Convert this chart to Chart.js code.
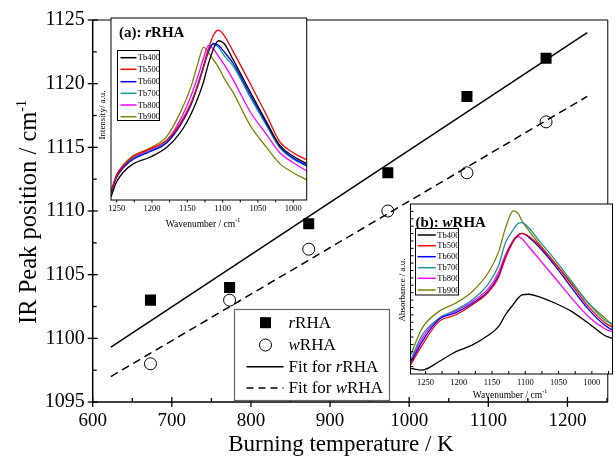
<!DOCTYPE html>
<html><head><meta charset="utf-8">
<script src="https://cdn.jsdelivr.net/npm/chart.js@4.4.1/dist/chart.umd.min.js"></script>
<style>
html,body{margin:0;padding:0;background:#fff;}
#wrap{position:relative;width:615px;height:457px;overflow:hidden;background:#fff;}
canvas{position:absolute;}
</style></head><body>
<div id="wrap">
<canvas id="main" width="615" height="457" style="left:0;top:0;width:615px;height:457px"></canvas>
<canvas id="insA" width="226" height="228" style="left:88px;top:8px;width:226px;height:228px"></canvas>
<canvas id="insB" width="223" height="210" style="left:392px;top:196px;width:223px;height:210px"></canvas>
</div>
<script>
// ---------- main chart data ----------
const tempK = [673, 773, 873, 973, 1073, 1173];
const peakR = [1103, 1104, 1109, 1113, 1119, 1122];
const peakW = [1098, 1103, 1107, 1110, 1113, 1117];
const fitX = [623, 1225];
const fitR = [1099.3, 1124.0];
const fitW = [1097.0, 1119.0];
const xTickValues = [600, 650, 700, 750, 800, 850, 900, 950, 1000, 1050, 1100, 1150, 1200, 1250];
const xTickLabels = [600, 700, 800, 900, 1000, 1100, 1200];
const yTickValues = [1095, 1097.5, 1100, 1102.5, 1105, 1107.5, 1110, 1112.5, 1115, 1117.5, 1120, 1122.5, 1125];
const yTickLabels = [1095, 1100, 1105, 1110, 1115, 1120, 1125];

// ---------- inset (a): rRHA ----------
const waveA = [1258, 1250, 1240, 1226, 1203, 1179, 1160, 1145, 1135, 1127, 1120, 1113, 1106, 1098, 1085, 1061, 1038, 1019, 1000, 981];
const a400 = [1.8, 10, 15.5, 20, 23.5, 29, 37, 47, 56, 65, 75, 83, 87.5, 86, 77, 59.5, 43, 30, 24, 20];
const a500 = [4.6, 13.5, 19, 24, 28, 33, 42, 53, 63, 73, 83, 90.5, 93.3, 90.5, 81.5, 64, 46.7, 32, 26, 22];
const a600 = [4, 12.5, 18, 22.5, 26.5, 31.5, 41, 52, 63, 73, 81.5, 86, 85, 81.5, 75, 58, 42, 29.5, 23, 19];
const a700 = [4.2, 13, 18.5, 23, 27, 32, 42, 53, 64, 74, 83, 85.5, 84, 79.5, 73.5, 56.5, 41, 28.5, 22.5, 18.5];
const a800 = [4.5, 13.5, 19, 23.5, 27.5, 32.5, 44, 57, 68, 78, 85, 83, 79, 74.5, 66, 48.5, 36, 26, 20.5, 16];
const a900 = [4.8, 14, 19.5, 24.5, 28.5, 35, 48, 62, 75, 84, 81, 77, 73, 67, 59, 41, 29, 20, 15, 11];

// ---------- inset (b): wRHA ----------
const waveB = [1272, 1255, 1230, 1205, 1180, 1155, 1140, 1130, 1118, 1110, 1105, 1095, 1080, 1055, 1030, 1005, 980, 969];
const b400 = [3.3, 2.3, 7.2, 13, 17, 22.9, 28, 34.7, 41, 45, 46.5, 46.9, 45.5, 41.6, 36.7, 29.8, 22.5, 21];
const b500 = [5.5, 17, 30.8, 34.7, 40.6, 48.4, 57, 68, 78, 81.8, 82.7, 81, 76, 65, 52.3, 39.6, 30, 27.5];
const b600 = [6.5, 19, 32, 36, 41.5, 49, 58, 68.5, 78.5, 82, 82.7, 80.5, 75, 63.5, 50.5, 38, 28.5, 25.9];
const b700 = [8.5, 22.9, 32.7, 37.6, 43.5, 53.3, 64, 77, 85, 88.8, 89, 86, 78.8, 67, 54.3, 41.6, 31.5, 29.4];
const b800 = [7.5, 21, 32.7, 37, 42.5, 50.5, 60, 70, 78.5, 80.8, 79.5, 75, 68, 56.3, 44.5, 33.7, 26.5, 24.9];
const b900 = [11.4, 27, 36.7, 41.6, 48.4, 60, 72, 85.6, 96, 94, 90, 84.5, 76.9, 65, 53.3, 41.6, 32.8, 28.4];

const seriesNames = ['Tb400', 'Tb500', 'Tb600', 'Tb700', 'Tb800', 'Tb900'];
const insetTickValues = [1000, 1050, 1100, 1150, 1200, 1250];
const colors = ['#000000', '#ff0000', '#0000ff', '#1a9595', '#ff00ff', '#808000'];

const SERIF = "'Liberation Serif', 'Times New Roman', serif";

function drawParts(ctx, parts, x, y, align) {
  let total = 0;
  parts.forEach(p => { ctx.font = p.f; p.w = ctx.measureText(p.t).width; total += p.w; });
  let cx = align === 'center' ? x - total / 2 : (align === 'right' ? x - total : x);
  ctx.textAlign = 'left';
  parts.forEach(p => { ctx.font = p.f; ctx.fillText(p.t, cx, y + (p.dy || 0)); cx += p.w; });
}

// ---------- main chart ----------
const mainDeco = {
  id: 'mainDeco',
  afterDraw(chart) {
    const { ctx, chartArea: a, scales: { x, y } } = chart;
    ctx.save();
    ctx.strokeStyle = '#000';
    ctx.lineWidth = 1;
    ctx.beginPath();
    ctx.moveTo(a.left, a.top); ctx.lineTo(a.right, a.top); ctx.lineTo(a.right, a.bottom);
    ctx.stroke();
    ctx.lineWidth = 1.5;
    ctx.beginPath();
    ctx.moveTo(a.left, a.top); ctx.lineTo(a.left, a.bottom); ctx.lineTo(a.right, a.bottom);
    ctx.stroke();
    ctx.lineWidth = 1.3;
    x.ticks.forEach(t => {
      const px = x.getPixelForValue(t.value);
      const major = xTickLabels.includes(t.value);
      ctx.beginPath();
      ctx.moveTo(px, a.bottom + (major ? 5 : 0));
      ctx.lineTo(px, a.bottom - (major ? 5 : 4));
      ctx.stroke();
    });
    y.ticks.forEach(t => {
      const py = y.getPixelForValue(t.value);
      const major = yTickLabels.includes(t.value);
      ctx.beginPath();
      ctx.moveTo(a.left - (major ? 5 : 0), py);
      ctx.lineTo(a.left + (major ? 5 : 4), py);
      ctx.stroke();
    });
    ctx.fillStyle = '#000';
    ctx.textBaseline = 'alphabetic';
    drawParts(ctx, [{ t: 'Burning temperature / K', f: '23px ' + SERIF }], 341, 451, 'center');
    ctx.save();
    ctx.translate(36, 212);
    ctx.rotate(-Math.PI / 2);
    drawParts(ctx, [
      { t: 'IR Peak position / cm', f: '24.5px ' + SERIF },
      { t: '-1', f: '14px ' + SERIF, dy: -10 }
    ], 0, 0, 'center');
    ctx.restore();
    // legend
    const L = 234.5, T = 309.5, W = 155, H = 91;
    ctx.fillStyle = '#fff';
    ctx.fillRect(L, T, W, H);
    ctx.strokeStyle = '#666';
    ctx.lineWidth = 1.2;
    ctx.strokeRect(L, T, W, H);
    const rows = [322.7, 345, 366.7, 388];
    const mx = 265.5;
    ctx.fillStyle = '#000';
    ctx.fillRect(mx - 5.5, rows[0] - 5.5, 11, 11);
    ctx.strokeStyle = '#000';
    ctx.lineWidth = 1;
    ctx.beginPath(); ctx.arc(mx, rows[1], 6, 0, Math.PI * 2); ctx.stroke();
    ctx.lineWidth = 1.5;
    ctx.beginPath(); ctx.moveTo(246.5, rows[2]); ctx.lineTo(283.5, rows[2]); ctx.stroke();
    ctx.setLineDash([7, 5]);
    ctx.beginPath(); ctx.moveTo(246.5, rows[3]); ctx.lineTo(283.5, rows[3]); ctx.stroke();
    ctx.setLineDash([]);
    ctx.textBaseline = 'middle';
    const f = '17px ' + SERIF, fi = 'italic 17px ' + SERIF;
    drawParts(ctx, [{ t: 'r', f: fi }, { t: 'RHA', f: f }], 288.5, rows[0] + 1, 'left');
    drawParts(ctx, [{ t: 'w', f: fi }, { t: 'RHA', f: f }], 288.5, rows[1] + 1, 'left');
    drawParts(ctx, [{ t: 'Fit for ', f: f }, { t: 'r', f: fi }, { t: 'RHA', f: f }], 288.5, rows[2] + 1, 'left');
    drawParts(ctx, [{ t: 'Fit for ', f: f }, { t: 'w', f: fi }, { t: 'RHA', f: f }], 288.5, rows[3] + 1, 'left');
    ctx.restore();
  }
};

new Chart(document.getElementById('main'), {
  type: 'scatter',
  data: {
    datasets: [
      { label: 'Fit for rRHA', data: fitX.map((v, i) => ({ x: v, y: fitR[i] })), showLine: true, borderColor: '#000', borderWidth: 1.5, pointRadius: 0, fill: false },
      { label: 'Fit for wRHA', data: fitX.map((v, i) => ({ x: v, y: fitW[i] })), showLine: true, borderColor: '#000', borderWidth: 1.5, borderDash: [8, 5], pointRadius: 0, fill: false },
      { label: 'rRHA', data: tempK.map((v, i) => ({ x: v, y: peakR[i] })), pointStyle: 'rect', pointRadius: 7.8, backgroundColor: '#000', borderColor: '#000', borderWidth: 0 },
      { label: 'wRHA', data: tempK.map((v, i) => ({ x: v, y: peakW[i] })), pointStyle: 'circle', pointRadius: 6, backgroundColor: 'rgba(0,0,0,0)', borderColor: '#000', borderWidth: 1 }
    ]
  },
  options: {
    responsive: false, animation: false, devicePixelRatio: 1, events: [],
    layout: { autoPadding: false, padding: { left: 0, top: 17.5, right: 2.5, bottom: 0 } },
    plugins: { legend: { display: false }, tooltip: { enabled: false } },
    scales: {
      x: {
        type: 'linear', min: 600, max: 1251,
        afterFit(s) { s.height = 55; },
        afterBuildTicks(s) { s.ticks = xTickValues.map(v => ({ value: v })); },
        grid: { display: false, drawTicks: false }, border: { display: false },
        ticks: { autoSkip: false, maxRotation: 0, minRotation: 0, padding: 8,
          color: '#000', font: { family: SERIF, size: 19 },
          callback: v => xTickLabels.includes(v) ? String(v) : '' }
      },
      y: {
        type: 'linear', min: 1095, max: 1125,
        afterFit(s) { s.width = 92.7; },
        afterBuildTicks(s) { s.ticks = yTickValues.map(v => ({ value: v })); },
        grid: { display: false, drawTicks: false }, border: { display: false },
        ticks: { autoSkip: false, padding: 8,
          color: '#000', font: { family: SERIF, size: 20 },
          callback: v => yTickLabels.includes(v) ? String(v) : '' }
      }
    }
  },
  plugins: [mainDeco]
});

// ---------- insets ----------
function makeInset(canvasId, off, wave, series, cfg) {
  const deco = {
    id: 'deco' + canvasId,
    beforeDatasetsDraw(chart) {
      const { ctx, chartArea: a } = chart;
      ctx.save();
      ctx.fillStyle = '#fff';
      ctx.fillRect(a.left, a.top, a.right - a.left, a.bottom - a.top);
      ctx.restore();
    },
    afterDraw(chart) {
      const { ctx, chartArea: a, scales: { x, y } } = chart;
      ctx.save();
      ctx.strokeStyle = '#000';
      ctx.lineWidth = 1;
      ctx.strokeRect(a.left, a.top, a.right - a.left, a.bottom - a.top);
      for (let v = 975; v <= 1275; v += 25) {
        const px = x.getPixelForValue(v);
        if (px < a.left + 1 || px > a.right - 1) continue;
        ctx.beginPath();
        ctx.moveTo(px, a.bottom + (cfg.tickOut ? 2.5 : 0));
        ctx.lineTo(px, a.bottom - (cfg.tickOut ? 0 : 3));
        ctx.stroke();
      }
      if (cfg.yTicks) {
        for (let k = 1; k < cfg.yTicks; k++) {
          const py = y.getPixelForValue(k * 100 / cfg.yTicks);
          ctx.beginPath(); ctx.moveTo(a.left, py); ctx.lineTo(a.left + 3, py); ctx.stroke();
        }
      }
      ctx.translate(-off[0], -off[1]);
      ctx.fillStyle = '#000';
      ctx.textBaseline = 'middle';
      const tb = 'bold 15px ' + SERIF, tbi = 'bold italic 15px ' + SERIF;
      drawParts(ctx, [{ t: cfg.titlePre, f: tb }, { t: cfg.titleIt, f: tbi }, { t: 'RHA', f: tb }], cfg.titlePos[0], cfg.titlePos[1], 'left');
      const lb = cfg.legBox;
      ctx.fillStyle = '#fff';
      ctx.fillRect(lb[0], lb[1], lb[2], lb[3]);
      ctx.strokeStyle = '#000'; ctx.lineWidth = 1;
      ctx.strokeRect(lb[0], lb[1], lb[2], lb[3]);
      ctx.lineWidth = 1.5;
      cfg.legRows.forEach((ry, i) => {
        ctx.strokeStyle = colors[i];
        ctx.beginPath(); ctx.moveTo(cfg.legLine[0], ry); ctx.lineTo(cfg.legLine[1], ry); ctx.stroke();
        ctx.fillStyle = '#000';
        drawParts(ctx, [{ t: seriesNames[i], f: '8.5px ' + SERIF }], cfg.legLine[2], ry + 0.5, 'left');
      });
      ctx.fillStyle = '#000';
      ctx.textBaseline = 'middle';
      drawParts(ctx, [{ t: 'Wavenumber / cm', f: '9.5px ' + SERIF }, { t: '-1', f: '6px ' + SERIF, dy: -4 }], cfg.xTitle[0], cfg.xTitle[1], 'center');
      ctx.save();
      ctx.translate(cfg.yTitle[0], cfg.yTitle[1]);
      ctx.rotate(-Math.PI / 2);
      drawParts(ctx, [{ t: cfg.yTitleText, f: '9px ' + SERIF }], 0, 0, 'center');
      ctx.restore();
      ctx.restore();
    }
  };
  new Chart(document.getElementById(canvasId), {
    type: 'line',
    data: {
      datasets: series.map((s, i) => ({
        label: seriesNames[i],
        data: wave.map((w, j) => ({ x: w, y: s[j] })),
        borderColor: colors[i], borderWidth: 1.3, pointRadius: 0, fill: false,
        cubicInterpolationMode: 'monotone'
      }))
    },
    options: {
      responsive: false, animation: false, devicePixelRatio: 1, events: [],
      layout: { autoPadding: false, padding: cfg.padding },
      plugins: { legend: { display: false }, tooltip: { enabled: false } },
      scales: {
        x: {
          type: 'linear', reverse: true, min: cfg.xMin, max: cfg.xMax,
          afterFit(s) { s.height = cfg.xAxisH; },
          afterBuildTicks(s) { s.ticks = insetTickValues.map(v => ({ value: v })); },
          grid: { display: false, drawTicks: false }, border: { display: false },
          ticks: { autoSkip: false, maxRotation: 0, minRotation: 0, padding: cfg.tickPad,
            color: '#000', font: { family: SERIF, size: 8.5 },
            callback: v => String(v) }
        },
        y: { type: 'linear', display: false, min: 0, max: 100 }
      }
    },
    plugins: [deco]
  });
}

makeInset('insA', [88, 8], waveA, [a400, a500, a600, a700, a800, a900], {
  padding: { left: 23, right: 7.3, top: 10, bottom: 0 },
  xAxisH: 36, xMin: 981, xMax: 1258, tickPad: 4, tickOut: true, yTicks: 0,
  titlePre: '(a): ', titleIt: 'r', titlePos: [119, 33],
  legBox: [117.5, 50.5, 42, 70], legRows: [57.7, 69.3, 81.7, 93.3, 105, 116.7], legLine: [120.5, 136.5, 137.7],
  xTitle: [203, 224], yTitle: [103, 115], yTitleText: 'Intensity/ a.u.'
});

makeInset('insB', [392, 196], waveB, [b400, b500, b600, b700, b800, b900], {
  padding: { left: 18.5, right: 2.5, top: 8, bottom: 0 },
  xAxisH: 32, xMin: 969, xMax: 1272.5, tickPad: 4, tickOut: false, yTicks: 23,
  titlePre: '(b): ', titleIt: 'w', titlePos: [415.5, 223.5],
  legBox: [415.5, 228.5, 43, 66.5], legRows: [235, 245.7, 256.7, 267.7, 278.3, 290], legLine: [417.7, 435.7, 437.3],
  xTitle: [510, 395], yTitle: [403, 290], yTitleText: 'Absorbance / a.u.'
});
</script>
</body></html>
